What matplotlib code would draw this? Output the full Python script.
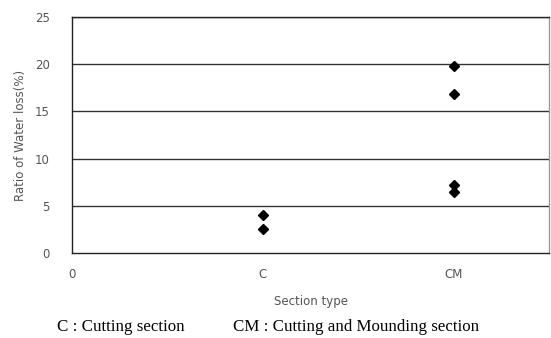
import matplotlib
matplotlib.use("Agg")
import matplotlib.pyplot as plt

categories = ["C", "CM"]
x_ticks = [0, 1, 2]
x_tick_labels = ["0", "C", "CM"]
c_values = [4.0, 2.5]
cm_values = [19.8, 16.9, 7.2, 6.5]
y_ticks = [0, 5, 10, 15, 20, 25]

fig = plt.figure(figsize=(5.51, 3.38), dpi=100)
ax = fig.add_axes([0.1307, 0.2515, 0.8657, 0.698])

ax.set_xlim(0, 2.5)
ax.set_ylim(0, 25)
for yv in y_ticks[1:]:
    ax.axhline(yv, color="#333333", lw=1.0, zorder=1)

ax.plot([1] * len(c_values), c_values, "D", color="black", ms=5.5, zorder=3)
ax.plot([2] * len(cm_values), cm_values, "D", color="black", ms=5.5, zorder=3)

ax.set_yticks(y_ticks)
ax.set_yticklabels([str(v) for v in y_ticks])
ax.set_xticks(x_ticks)
ax.set_xticklabels(x_tick_labels)
ax.tick_params(axis="both", length=0, labelsize=8.5, labelcolor="#555555")
ax.tick_params(axis="y", pad=16)
ax.tick_params(axis="x", pad=11)

for s in ["left", "bottom", "top"]:
    ax.spines[s].set_color("#222222")
    ax.spines[s].set_linewidth(1.0)
ax.spines["right"].set_color("#999999")
ax.spines["right"].set_linewidth(1.0)

ax.set_ylabel("Ratio of Water loss(%)", fontsize=8.5, color="#555555", labelpad=6)
ax.set_xlabel("Section type", fontsize=8.5, color="#555555", labelpad=10)

fig.text(0.104, 0.022, "C : Cutting section", family="Liberation Serif",
         fontsize=12.2, color="black", ha="left", va="baseline")
fig.text(0.423, 0.022, "CM : Cutting and Mounding section", family="Liberation Serif",
         fontsize=12.2, color="black", ha="left", va="baseline")

fig.savefig("out.png", dpi=100)
